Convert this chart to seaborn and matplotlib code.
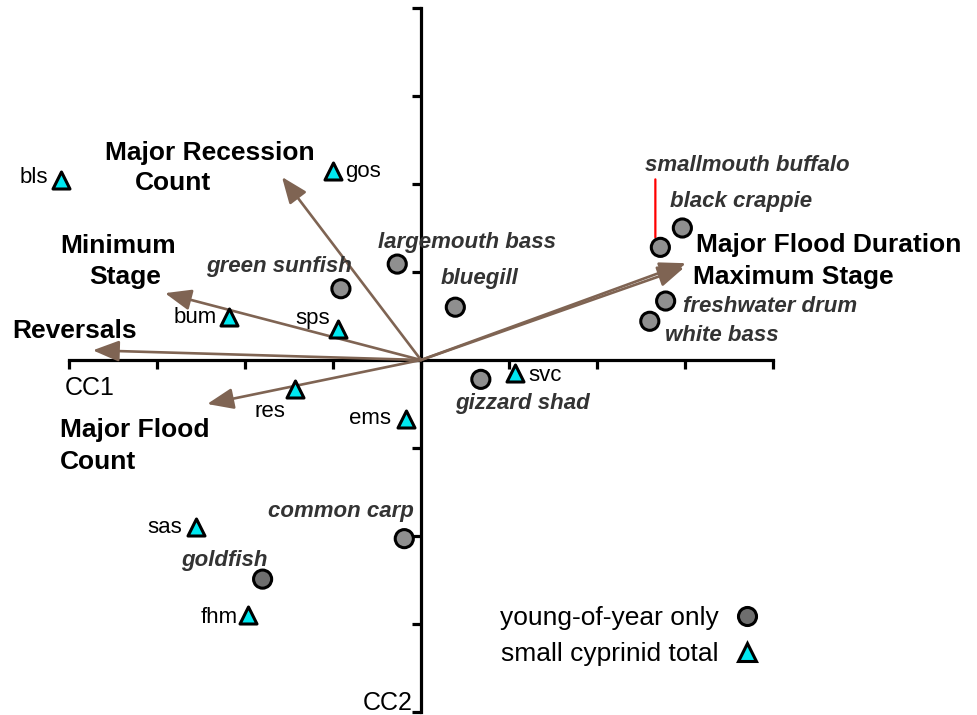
import matplotlib
matplotlib.use("Agg")
import matplotlib.pyplot as plt
from matplotlib.lines import Line2D
from matplotlib.transforms import offset_copy
import seaborn as sns
import pandas as pd

# ---------------- data (canonical scores) ----------------
yoy_species = ["smallmouth buffalo", "black crappie", "freshwater drum", "white bass",
               "largemouth bass", "bluegill", "green sunfish", "gizzard shad",
               "common carp", "goldfish"]
yoy_cc1 = [2.72, 2.97, 2.78, 2.60, -0.27, 0.39, -0.91, 0.68, -0.19, -1.80]
yoy_cc2 = [1.28, 1.50, 0.67, 0.44, 1.09, 0.60, 0.81, -0.22, -2.03, -2.49]
yoy_shade = ["light"] * 9 + ["dark"]

cyp_codes = ["bls", "gos", "bum", "sps", "res", "ems", "svc", "sas", "fhm"]
cyp_cc1 = [-4.09, -1.00, -2.18, -0.94, -1.43, -0.17, 1.07, -2.56, -1.97]
cyp_cc2 = [2.05, 2.15, 0.49, 0.35, -0.33, -0.67, -0.15, -1.90, -2.90]

env_vars = ["Major Recession Count", "Minimum Stage", "Reversals", "Major Flood Count",
            "Major Flood Duration", "Maximum Stage"]
env_cc1 = [-1.58, -2.91, -3.73, -2.43, 3.01, 2.99]
env_cc2 = [2.08, 0.76, 0.11, -0.50, 1.10, 1.05]

axis_ticks = [-4, -3, -2, -1, 0, 1, 2, 3, 4]
legend_labels = ["young-of-year only", "small cyprinid total"]

# ---------------- layout (label placement, not data) ----------------
# offsets in pixels relative to the point, with horizontal alignment
yoy_label_layout = [(-15, 82, "left"), (-12, 27, "left"), (17, -5, "left"), (15, -14, "left"),
                    (-19, 22, "left"), (-15, 29, "left"), (11, 22, "right"), (-26, -24, "left"),
                    (10, 27, "right"), (5, 19, "right")]
cyp_label_layout = [(-13, 2, "right"), (12, -1, "left"), (-12, -1, "right"), (-8, 11, "right"),
                    (-25, -22, "center"), (-15, 0, "right"), (13, -2, "left"), (-14, 0, "right"),
                    (-10, -2, "right")]
# environmental variable label lines: (text, x, y, ha) in data units
env_label_layout = [("Major Recession", -2.40, 2.35, "center"), ("Count", -2.82, 2.01, "center"),
                    ("Minimum", -3.44, 1.30, "center"), ("Stage", -3.36, 0.94, "center"),
                    ("Reversals", -4.64, 0.33, "left"),
                    ("Major Flood", -4.10, -0.80, "left"), ("Count", -4.10, -1.16, "left"),
                    ("Major Flood Duration", 3.12, 1.31, "left"), ("Maximum Stage", 3.09, 0.94, "left")]
# leader line for smallmouth buffalo: pixel offsets from its point (start, end)
leader_offsets = ((-5, 10), (-5, 68))

GRAY = "#8f8f8f"
DARK_GRAY = "#6e6e6e"
CYAN = "#00e8f0"
BROWN = "#7f6453"
LABEL_GRAY = "#333333"

sns.set_theme(style="white")
plt.rcParams["font.family"] = ["Liberation Sans", "DejaVu Sans"]
plt.rcParams["text.color"] = "black"

fig = plt.figure(figsize=(9.77, 7.15), dpi=100)
ax = fig.add_axes([0, 0, 1, 1])
ax.set_facecolor("white")

# pixel mapping: origin at (421, 360), 88 px per unit
ax.set_xlim(-421 / 88, (977 - 421) / 88)
ax.set_ylim((360 - 715) / 88, 360 / 88)

# axes through the origin
for side in ["top", "right"]:
    ax.spines[side].set_visible(False)
for side in ["left", "bottom"]:
    ax.spines[side].set_position(("data", 0))
    ax.spines[side].set_bounds(axis_ticks[0], axis_ticks[-1])
    ax.spines[side].set_linewidth(2.3)
    ax.spines[side].set_color("black")
    ax.spines[side].set_zorder(1)
ax.set_xticks(axis_ticks)
ax.set_yticks(axis_ticks)
ax.tick_params(axis="both", direction="out", length=6.5, width=2.3, color="black",
               labelbottom=False, labelleft=False, bottom=True, left=True)
ax.grid(False)

# environmental arrows
for name, x, y in zip(env_vars, env_cc1, env_cc2):
    ax.annotate("", xy=(x, y), xytext=(0, 0),
                arrowprops=dict(arrowstyle="-|>,head_length=0.8,head_width=0.32",
                                mutation_scale=20, color=BROWN, lw=1.9,
                                shrinkA=0, shrinkB=0), zorder=2)
for txt, x, y, ha in env_label_layout:
    ax.text(x, y, txt, ha=ha, va="center", fontsize=19, fontweight="bold", color="black")

# young-of-year points
df_yoy = pd.DataFrame({"cc1": yoy_cc1, "cc2": yoy_cc2, "shade": yoy_shade})
sns.scatterplot(data=df_yoy, x="cc1", y="cc2", hue="shade",
                palette={"light": GRAY, "dark": DARK_GRAY}, marker="o", s=170,
                edgecolor="black", linewidth=2.2, legend=False, ax=ax, zorder=4)

# small cyprinid points
df_cyp = pd.DataFrame({"cc1": cyp_cc1, "cc2": cyp_cc2})
sns.scatterplot(data=df_cyp, x="cc1", y="cc2", marker="^", s=150, color=CYAN,
                edgecolor="black", linewidth=2.2, legend=False, ax=ax, zorder=4)

# species labels
for i, (name, x, y) in enumerate(zip(yoy_species, yoy_cc1, yoy_cc2)):
    dx, dy, ha = yoy_label_layout[i]
    ax.annotate(name, xy=(x, y), xytext=(dx, dy), textcoords="offset pixels",
                ha=ha, va="center", fontsize=16, fontweight="bold", fontstyle="italic",
                color=LABEL_GRAY, zorder=3)

# red leader line above smallmouth buffalo
(sx0, sy0), (sx1, sy1) = leader_offsets
ax.annotate("", xy=(yoy_cc1[0], yoy_cc2[0]),
            xycoords=offset_copy(ax.transData, fig=fig, x=sx0, y=sy0, units="dots"),
            xytext=(yoy_cc1[0], yoy_cc2[0]),
            textcoords=offset_copy(ax.transData, fig=fig, x=sx1, y=sy1, units="dots"),
            arrowprops=dict(arrowstyle="-", color="red", lw=1.6, shrinkA=0, shrinkB=0),
            zorder=3)

for i, (code, x, y) in enumerate(zip(cyp_codes, cyp_cc1, cyp_cc2)):
    dx, dy, ha = cyp_label_layout[i]
    ax.annotate(code, xy=(x, y), xytext=(dx, dy), textcoords="offset pixels",
                ha=ha, va="center", fontsize=16, color="black", zorder=3)

# axis names
ax.text(-4.045, -0.32, "CC1", ha="left", va="center", fontsize=18, color="black")
ax.text(-0.09, -3.90, "CC2", ha="right", va="center", fontsize=18, color="black")

# legend (markers after the text)
handles = [Line2D([], [], ls="", marker="o", markersize=13, mfc=DARK_GRAY, mec="black", mew=2.2),
           Line2D([], [], ls="", marker="^", markersize=12.5, mfc=CYAN, mec="black", mew=2.2)]
ax.legend(handles, legend_labels, markerfirst=False, frameon=False, fontsize=19,
          labelcolor="black",
          loc="center", bbox_to_anchor=(630 / 977, 1 - 636 / 715),
          handlelength=1.0, handletextpad=0.6, labelspacing=0.46, borderpad=0.0)

fig.savefig("out.png", dpi=100)
